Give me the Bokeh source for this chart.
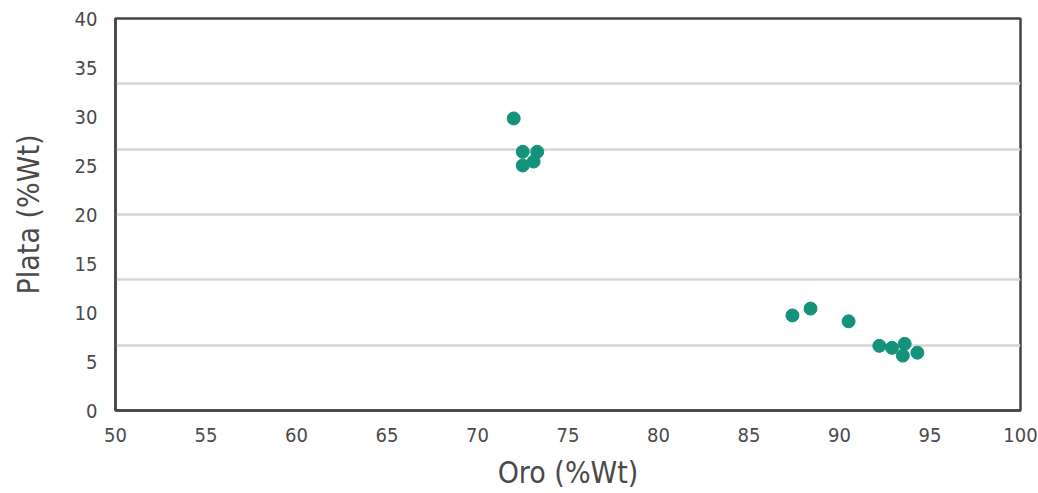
from bokeh.plotting import figure
from bokeh.models import FixedTicker, Range1d
from bokeh.embed import file_html
from bokeh.resources import INLINE

# Data (Oro %Wt vs Plata %Wt)
oro = [72.0, 72.5, 73.3, 73.1, 72.5,
       87.4, 88.4, 90.5, 92.2, 92.9, 93.6, 93.5, 94.3]
plata = [29.8, 26.4, 26.4, 25.4, 25.0,
         9.7, 10.4, 9.1, 6.6, 6.4, 6.8, 5.6, 5.9]

x_ticks = [50, 55, 60, 65, 70, 75, 80, 85, 90, 95, 100]
y_ticks = [0, 5, 10, 15, 20, 25, 30, 35, 40]
x_label = "Oro (%Wt)"
y_label = "Plata (%Wt)"

FONT = "DejaVu Sans Condensed"
TEXT = "#4a4a4a"

p = figure(width=1038, height=493, output_backend="svg", toolbar_location=None,
           x_range=Range1d(50, 100), y_range=Range1d(0, 40),
           min_border_left=115, min_border_right=18, min_border_top=18,
           min_border_bottom=83)

p.scatter(oro, plata, size=13, fill_color="#14937a", line_color="#14937a")

p.outline_line_color = "#444444"
p.outline_line_width = 2.5

for ax, ticks in ((p.xaxis[0], x_ticks), (p.yaxis[0], y_ticks)):
    ax.ticker = FixedTicker(ticks=ticks)
    ax.axis_line_color = "#444444"
    ax.axis_line_width = 2.5
    ax.major_tick_line_color = None
    ax.minor_tick_line_color = None
    ax.major_label_text_font = FONT
    ax.major_label_text_font_size = "20px"
    ax.major_label_text_color = TEXT
    ax.axis_label_text_font = FONT
    ax.axis_label_text_font_size = "30px"
    ax.axis_label_text_font_style = "normal"
    ax.axis_label_text_color = TEXT

p.xaxis.axis_label = x_label
p.yaxis.axis_label = y_label
p.xaxis.major_label_standoff = 11
p.yaxis.major_label_standoff = 12
p.xaxis.axis_label_standoff = 10
p.yaxis.axis_label_standoff = 26

p.xgrid.grid_line_color = None
p.ygrid.ticker = FixedTicker(ticks=[40 * i / 6 for i in range(1, 6)])
p.ygrid.grid_line_color = "#d6d6d6"
p.ygrid.grid_line_width = 2.5

open("out.html", "w").write(file_html(p, INLINE))
